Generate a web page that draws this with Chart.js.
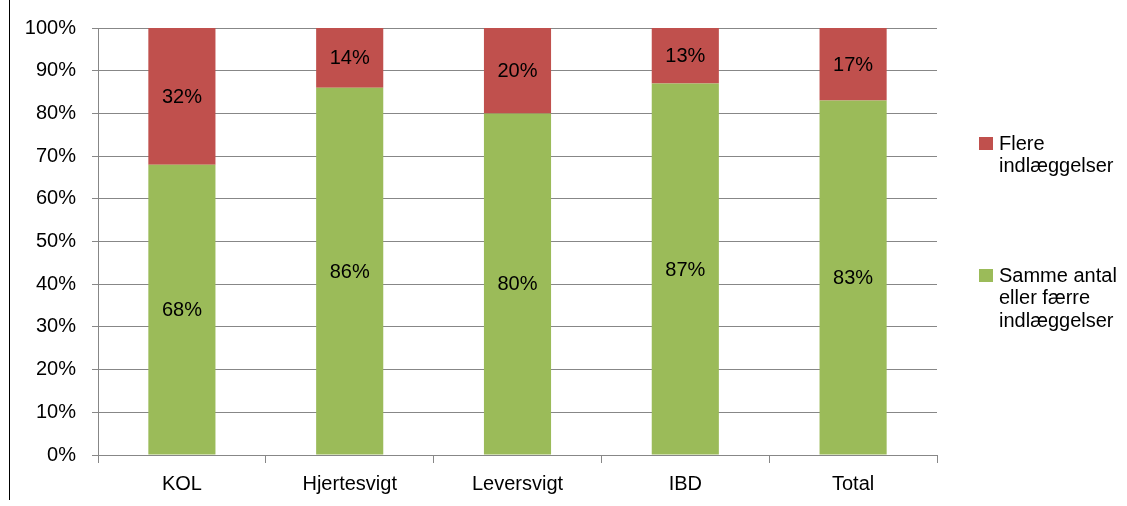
<!DOCTYPE html>
<html>
<head>
<meta charset="utf-8">
<script src="https://cdn.jsdelivr.net/npm/chart.js@4/dist/chart.umd.min.js"></script>
<style>
    html, body { margin: 0; padding: 0; background: #fff; }
    #wrap { position: relative; width: 1127px; height: 506px; }
    #edge { position: absolute; left: 9px; top: 0; width: 1px; height: 500px; background: #000; }
    canvas { position: absolute; left: 0; top: 0; }
</style>
</head>
<body>
<div id="wrap">
    <canvas id="chart" width="1127" height="506"></canvas>
    <div id="edge"></div>
</div>
<script>
const categories = ['KOL', 'Hjertesvigt', 'Leversvigt', 'IBD', 'Total'];
const sameOrFewer = [68, 86, 80, 87, 83];
const more = [32, 14, 20, 13, 17];
const legendLabels = {
    more: ['Flere', 'indlæggelser'],
    same: ['Samme antal', 'eller færre', 'indlæggelser']
};

const FONT = "'Liberation Sans', sans-serif";
const SIZE = 20;
const GRID = '#878787';

// percentage in the middle of each segment
const segmentLabels = {
    id: 'segmentLabels',
    afterDatasetsDraw(chart) {
        const ctx = chart.ctx;
        ctx.save();
        ctx.font = SIZE + 'px ' + FONT;
        ctx.fillStyle = '#000';
        ctx.textAlign = 'center';
        ctx.textBaseline = 'middle';
        chart.data.datasets.forEach((ds, i) => {
            chart.getDatasetMeta(i).data.forEach((bar, j) => {
                const mid = (bar.y + bar.base) / 2;
                ctx.fillText(ds.data[j] + '%', bar.x, mid + 1);
            });
        });
        ctx.restore();
    }
};

// legend on the right with wrapped labels
const sideLegend = {
    id: 'sideLegend',
    afterDraw(chart) {
        const ctx = chart.ctx;
        const entries = [
            { color: chart.data.datasets[1].backgroundColor, lines: legendLabels.more, y: 144 },
            { color: chart.data.datasets[0].backgroundColor, lines: legendLabels.same, y: 276 }
        ];
        ctx.save();
        ctx.font = SIZE + 'px ' + FONT;
        ctx.textBaseline = 'middle';
        entries.forEach(e => {
            ctx.fillStyle = e.color;
            ctx.fillRect(979, e.y - 7, 14, 13);
            ctx.fillStyle = '#000';
            e.lines.forEach((t, k) => ctx.fillText(t, 999, e.y + k * 22.5));
        });
        ctx.restore();
    }
};

new Chart(document.getElementById('chart').getContext('2d'), {
    type: 'bar',
    data: {
        labels: categories,
        datasets: [
            {
                label: legendLabels.same.join(' '),
                data: sameOrFewer,
                backgroundColor: '#9BBB59',
                barPercentage: 0.4,
                categoryPercentage: 1
            },
            {
                label: legendLabels.more.join(' '),
                data: more,
                backgroundColor: '#C0504D',
                barPercentage: 0.4,
                categoryPercentage: 1
            }
        ]
    },
    options: {
        responsive: false,
        animation: false,
        layout: { padding: { top: 28, right: 190, left: 0, bottom: 0 } },
        plugins: {
            legend: { display: false },
            tooltip: { enabled: false }
        },
        scales: {
            x: {
                stacked: true,
                grid: { drawOnChartArea: false, drawTicks: true, tickLength: 8, offset: true, color: GRID },
                border: { display: true, color: GRID },
                ticks: { color: '#000', font: { family: FONT, size: SIZE }, padding: 9 },
                afterFit(axis) { axis.height = 51; }
            },
            y: {
                stacked: true,
                min: 0,
                max: 100,
                ticks: {
                    stepSize: 10,
                    color: '#000',
                    font: { family: FONT, size: SIZE },
                    padding: 16,
                    callback: v => v + '%'
                },
                grid: { color: GRID, tickLength: 6 },
                border: { display: true, color: GRID },
                afterFit(axis) { axis.width = 98; }
            }
        }
    },
    plugins: [segmentLabels, sideLegend]
});
</script>
</body>
</html>
